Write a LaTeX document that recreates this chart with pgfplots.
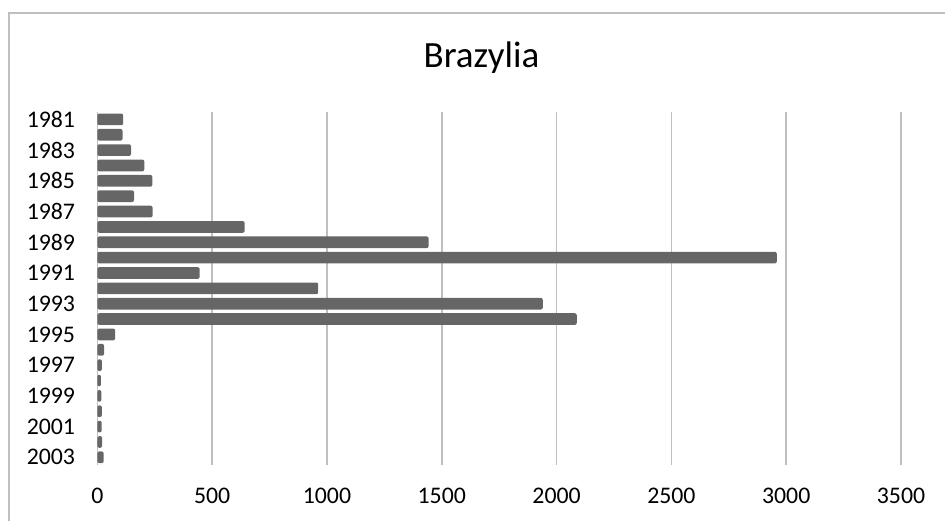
\documentclass[border=0pt]{standalone}
\usepackage{pgfplots}
\usepackage{pgfplotstable}
\pgfplotsset{compat=1.18}
\usepackage{fontspec}
\setmainfont{Carlito}
\definecolor{barc}{RGB}{102,102,102}
\definecolor{gridc}{RGB}{191,191,191}

\pgfplotstableread{
year value
1981 113
1982 110
1983 147
1984 205
1985 240
1986 160
1987 241
1988 642
1989 1443
1990 2959
1991 446
1992 962
1993 1940
1994 2088
1995 78
1996 30
1997 20
1998 16
1999 18
2000 20
2001 19
2002 21
2003 28
}\data

\begin{document}
\begin{tikzpicture}[x=1pt,y=1pt]
\useasboundingbox (0,0) rectangle (472.5,260.5);
\draw[gridc, line width=0.8pt] (4.5,0) -- (4.5,254) -- (472.5,254);
\node[font=\fontsize{18.5}{22}\selectfont, anchor=base, inner sep=0pt] at (240.75,227) {Brazylia};
\begin{axis}[
    at={(48.65pt,28pt)}, anchor=south west,
    scale only axis,
    width=401.85pt, height=176.65pt,
    xbar, bar width=0.76,
    xmin=0, xmax=3500,
    xtick={0,500,...,3500},
    ymin=1980.5, ymax=2003.5,
    y dir=reverse,
    ytick={1981,1983,...,2003},
    xmajorgrids,
    major grid style={gridc, line width=0.8pt},
    axis line style={draw=none},
    major tick length=0pt,
    tick label style={font=\fontsize{11.9}{13}\selectfont},
    /pgf/number format/1000 sep={},
    /pgf/number format/assume math mode=true,
    yticklabel style={xshift=-7.6pt},
    xticklabel style={yshift=-8pt},
]
\addplot[fill=barc, draw=none, rounded corners=1pt] table[x=value, y=year] {\data};
\end{axis}
\end{tikzpicture}
\end{document}
